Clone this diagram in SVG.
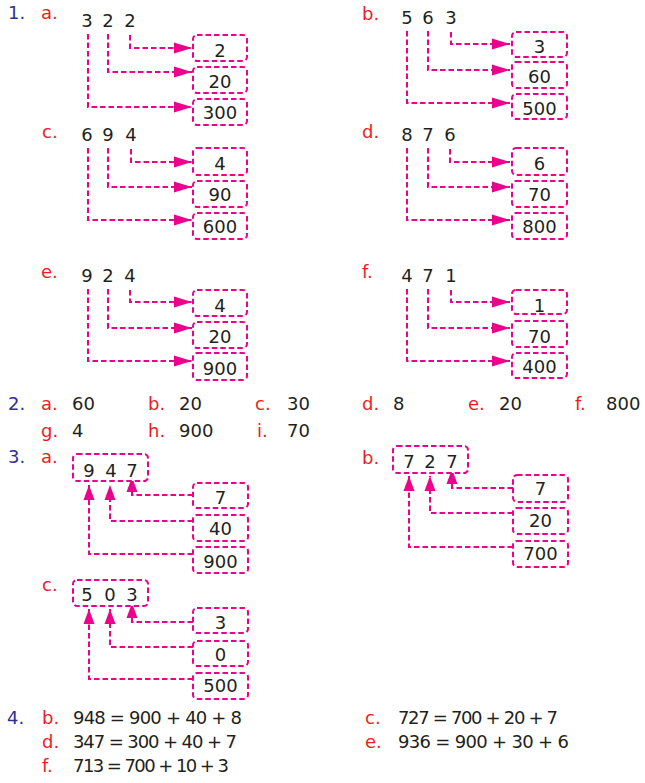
<svg xmlns="http://www.w3.org/2000/svg" width="645" height="783" viewBox="0 0 645 783">
<style>
text{font-family:"DejaVu Sans","Liberation Sans",Arial,sans-serif;font-size:18px}
.n{fill:#231f20}
.c{fill:#231f20;text-anchor:middle}
.l{fill:#ed1c24}
.q{fill:#2e3192}
.bx{fill:#fff;stroke:#ec008c;stroke-width:2;stroke-dasharray:5.5 3}
.ln{fill:none;stroke:#ec008c;stroke-width:2;stroke-dasharray:5.5 3}
.h{marker-end:url(#ah)}
.v{marker-end:url(#av)}
</style>
<defs>
<marker id="ah" markerUnits="userSpaceOnUse" markerWidth="19" markerHeight="12" refX="18" refY="6" orient="auto"><path d="M0,0.5 L18,6 L0,11.5Z" fill="#ec008c"/></marker>
<marker id="av" markerUnits="userSpaceOnUse" markerWidth="16" markerHeight="12" refX="15" refY="6" orient="auto"><path d="M0,0.5 L15,6 L0,11.5Z" fill="#ec008c"/></marker>
</defs>

<!-- section labels -->
<text class="q" x="8" y="19">1.</text>
<text class="q" x="8" y="410">2.</text>
<text class="q" x="8" y="463">3.</text>
<text class="q" x="7" y="724">4.</text>

<!-- connectors -->
<g id="connectors">
<!-- 1a -->
<path class="ln h" d="M130,35 V48 H192"/>
<path class="ln h" d="M108,34 V72 H192"/>
<path class="ln h" d="M88,34 V107 H192"/>
<!-- 1b -->
<path class="ln h" d="M451,32 V44 H510"/>
<path class="ln h" d="M428,31 V70 H510"/>
<path class="ln h" d="M407,31 V103 H510"/>
<!-- 1c -->
<path class="ln h" d="M131,149 V162 H192"/>
<path class="ln h" d="M108,148 V187 H192"/>
<path class="ln h" d="M88,148 V220 H192"/>
<!-- 1d -->
<path class="ln h" d="M450,149 V162 H510"/>
<path class="ln h" d="M428,148 V187 H510"/>
<path class="ln h" d="M407,148 V220 H510"/>
<!-- 1e -->
<path class="ln h" d="M130,290 V302 H192"/>
<path class="ln h" d="M108,289 V328 H192"/>
<path class="ln h" d="M88,289 V361 H192"/>
<!-- 1f -->
<path class="ln h" d="M451,290 V302 H510"/>
<path class="ln h" d="M428,289 V328 H510"/>
<path class="ln h" d="M407,289 V361 H510"/>
<!-- 3a -->
<path class="ln v" d="M193,495 H132 V477"/>
<path class="ln v" d="M193,521 H110 V485"/>
<path class="ln v" d="M193,554 H89 V485"/>
<!-- 3b -->
<path class="ln v" d="M513,488 H452 V469"/>
<path class="ln v" d="M513,513 H430 V476"/>
<path class="ln v" d="M513,547 H409 V476"/>
<!-- 3c -->
<path class="ln v" d="M193,622 H132 V603"/>
<path class="ln v" d="M193,647 H110 V609"/>
<path class="ln v" d="M193,679 H89 V609"/>
</g>

<!-- 1a -->
<g id="p1a">
<text class="l" x="41" y="19">a.</text>
<text class="c" x="87" y="27">3</text><text class="c" x="108" y="27">2</text><text class="c" x="130" y="27">2</text>
</g>
<g id="p1a-b1"><rect class="bx" x="193" y="35" width="54" height="26" rx="4"/><text class="c" x="220" y="57">2</text></g>
<g id="p1a-b2"><rect class="bx" x="193" y="67" width="54" height="26" rx="4"/><text class="c" x="220" y="88">20</text></g>
<g id="p1a-b3"><rect class="bx" x="193" y="99" width="54" height="26" rx="4"/><text class="c" x="220" y="119">300</text></g>

<!-- 1b -->
<g id="p1b">
<text class="l" x="362" y="20">b.</text>
<text class="c" x="407" y="24">5</text><text class="c" x="428" y="24">6</text><text class="c" x="451" y="24">3</text>
</g>
<g id="p1b-b1"><rect class="bx" x="512" y="32" width="55" height="25" rx="4"/><text class="c" x="539.5" y="53">3</text></g>
<g id="p1b-b2"><rect class="bx" x="512" y="62" width="55" height="26" rx="4"/><text class="c" x="539.5" y="83">60</text></g>
<g id="p1b-b3"><rect class="bx" x="512" y="94" width="55" height="25" rx="4"/><text class="c" x="539.5" y="115">500</text></g>

<!-- 1c -->
<g id="p1c">
<text class="l" x="42" y="138">c.</text>
<text class="c" x="87" y="141">6</text><text class="c" x="108" y="141">9</text><text class="c" x="131" y="141">4</text>
</g>
<g id="p1c-b1"><rect class="bx" x="193" y="148" width="54" height="27" rx="4"/><text class="c" x="220" y="170">4</text></g>
<g id="p1c-b2"><rect class="bx" x="193" y="181" width="54" height="26" rx="4"/><text class="c" x="220" y="201">90</text></g>
<g id="p1c-b3"><rect class="bx" x="193" y="213" width="54" height="26" rx="4"/><text class="c" x="220" y="233">600</text></g>

<!-- 1d -->
<g id="p1d">
<text class="l" x="362" y="138">d.</text>
<text class="c" x="407" y="141">8</text><text class="c" x="428" y="141">7</text><text class="c" x="450" y="141">6</text>
</g>
<g id="p1d-b1"><rect class="bx" x="512" y="148" width="55" height="27" rx="4"/><text class="c" x="539.5" y="170">6</text></g>
<g id="p1d-b2"><rect class="bx" x="512" y="181" width="55" height="26" rx="4"/><text class="c" x="539.5" y="201">70</text></g>
<g id="p1d-b3"><rect class="bx" x="512" y="213" width="55" height="26" rx="4"/><text class="c" x="539.5" y="233">800</text></g>

<!-- 1e -->
<g id="p1e">
<text class="l" x="41" y="278">e.</text>
<text class="c" x="87" y="282">9</text><text class="c" x="108" y="282">2</text><text class="c" x="130" y="282">4</text>
</g>
<g id="p1e-b1"><rect class="bx" x="193" y="290" width="54" height="26" rx="4"/><text class="c" x="220" y="312">4</text></g>
<g id="p1e-b2"><rect class="bx" x="193" y="322" width="54" height="26" rx="4"/><text class="c" x="220" y="343">20</text></g>
<g id="p1e-b3"><rect class="bx" x="193" y="353" width="54" height="27" rx="4"/><text class="c" x="220" y="375">900</text></g>

<!-- 1f -->
<g id="p1f">
<text class="l" x="362" y="278">f.</text>
<text class="c" x="407" y="282">4</text><text class="c" x="428" y="282">7</text><text class="c" x="451" y="282">1</text>
</g>
<g id="p1f-b1"><rect class="bx" x="512" y="290" width="55" height="24" rx="4"/><text class="c" x="539.5" y="312">1</text></g>
<g id="p1f-b2"><rect class="bx" x="512" y="321" width="55" height="26" rx="4"/><text class="c" x="539.5" y="343">70</text></g>
<g id="p1f-b3"><rect class="bx" x="512" y="353" width="55" height="25" rx="4"/><text class="c" x="539.5" y="373">400</text></g>

<!-- 2 -->
<g id="p2">
<text class="l" x="41" y="410">a.</text><text class="n" x="72" y="410">60</text>
<text class="l" x="148" y="410">b.</text><text class="n" x="179" y="410">20</text>
<text class="l" x="255" y="410">c.</text><text class="n" x="287" y="410">30</text>
<text class="l" x="362" y="410">d.</text><text class="n" x="393" y="410">8</text>
<text class="l" x="468" y="410">e.</text><text class="n" x="499" y="410">20</text>
<text class="l" x="575" y="410">f.</text><text class="n" x="606" y="410">800</text>
<text class="l" x="41" y="437">g.</text><text class="n" x="72" y="437">4</text>
<text class="l" x="148" y="437">h.</text><text class="n" x="179" y="437">900</text>
<text class="l" x="257" y="437">i.</text><text class="n" x="287" y="437">70</text>
</g>

<!-- 3a -->
<g id="p3a">
<text class="l" x="41" y="463">a.</text>
<rect class="bx" x="73" y="454" width="75" height="27" rx="4"/>
<text class="c" x="89" y="477">9</text><text class="c" x="111" y="477">4</text><text class="c" x="132" y="477">7</text>
</g>
<g id="p3a-b1"><rect class="bx" x="193" y="483" width="55" height="25" rx="4"/><text class="c" x="220.5" y="504">7</text></g>
<g id="p3a-b2"><rect class="bx" x="193" y="515" width="55" height="26" rx="4"/><text class="c" x="220.5" y="535">40</text></g>
<g id="p3a-b3"><rect class="bx" x="193" y="547" width="55" height="26" rx="4"/><text class="c" x="220.5" y="568">900</text></g>

<!-- 3b -->
<g id="p3b">
<text class="l" x="362" y="464">b.</text>
<rect class="bx" x="393" y="446" width="75" height="27" rx="4"/>
<text class="c" x="409" y="468">7</text><text class="c" x="430" y="468">2</text><text class="c" x="452" y="468">7</text>
</g>
<g id="p3b-b1"><rect class="bx" x="513" y="475" width="55" height="27" rx="4"/><text class="c" x="540.5" y="495">7</text></g>
<g id="p3b-b2"><rect class="bx" x="513" y="508" width="55" height="26" rx="4"/><text class="c" x="540.5" y="527">20</text></g>
<g id="p3b-b3"><rect class="bx" x="513" y="541" width="55" height="26" rx="4"/><text class="c" x="540.5" y="560">700</text></g>

<!-- 3c -->
<g id="p3c">
<text class="l" x="42" y="591">c.</text>
<rect class="bx" x="73" y="580" width="75" height="26" rx="4"/>
<text class="c" x="87" y="601">5</text><text class="c" x="110" y="601">0</text><text class="c" x="132" y="601">3</text>
</g>
<g id="p3c-b1"><rect class="bx" x="193" y="608" width="55" height="25" rx="4"/><text class="c" x="220.5" y="629">3</text></g>
<g id="p3c-b2"><rect class="bx" x="193" y="641" width="55" height="25" rx="4"/><text class="c" x="220.5" y="661">0</text></g>
<g id="p3c-b3"><rect class="bx" x="193" y="673" width="55" height="26" rx="4"/><text class="c" x="220.5" y="692">500</text></g>

<!-- 4 -->
<g id="p4">
<text class="l" x="42" y="724">b.</text><text class="n" x="73" y="724" textLength="169" lengthAdjust="spacing">948 = 900 + 40 + 8</text>
<text class="l" x="365" y="724">c.</text><text class="n" x="398" y="724" textLength="160" lengthAdjust="spacing">727 = 700 + 20 + 7</text>
<text class="l" x="42" y="748">d.</text><text class="n" x="73" y="748" textLength="164" lengthAdjust="spacing">347 = 300 + 40 + 7</text>
<text class="l" x="365" y="748">e.</text><text class="n" x="398" y="748" textLength="171" lengthAdjust="spacing">936 = 900 + 30 + 6</text>
<text class="l" x="42" y="772">f.</text><text class="n" x="73" y="772" textLength="156" lengthAdjust="spacing">713 = 700 + 10 + 3</text>
</g>
</svg>
